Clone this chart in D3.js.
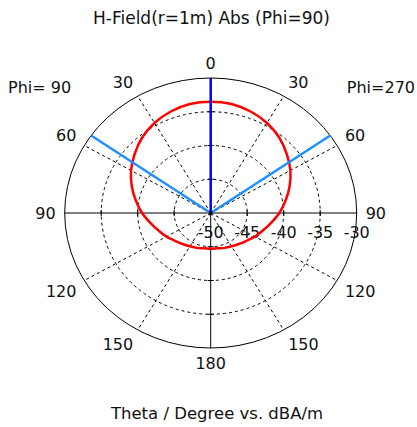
<!DOCTYPE html>
<html>
<head>
<meta charset="utf-8">
<script src="https://cdn.jsdelivr.net/npm/d3@7"></script>
<style>
  body { margin: 0; background: #fff; }
  svg text { font-family: "DejaVu Sans", Verdana, sans-serif; fill: #111; }
</style>
</head>
<body>
<svg id="chart" width="417" height="427"></svg>
<script>
// theta (deg) vs. H-field abs (dBA/m), same on both half planes (Phi=90 left, Phi=270 right)
const thetaDeg = [0, 10, 20, 30, 40, 50, 60, 70, 80, 90, 100, 110, 120, 130, 140, 150, 160, 170, 180];
const hField = [-33.5, -33.6, -34.0, -34.6, -35.4, -36.4, -37.4, -38.5, -39.6, -40.6, -41.6, -42.4, -43.0, -43.6, -44.0, -44.3, -44.5, -44.7, -44.7];
const ringLevels = [-50, -45, -40, -35, -30];
const spokeAngles = [0, 30, 60, 90, 120, 150, 180, 210, 240, 270, 300, 330];
const angleLabels = [0, 30, 60, 90, 120, 150, 180];
const mainBeam = 0;       // dark blue marker
const beamEdges = [55];   // light blue markers, both sides

const cx = 210.7, cy = 213;
const rx = 146, ry = 135;

const svg = d3.select('#chart');

// radial scales (ellipse, so one per direction)
const rScaleX = d3.scaleLinear().domain([-50, -30]).range([0, rx]);
const rScaleY = d3.scaleLinear().domain([-50, -30]).range([0, ry]);
const rad = d => d * Math.PI / 180;
// theta measured from top; side = +1 right (Phi=270), -1 left (Phi=90)
const px = (v, a, side = 1) => cx + side * rScaleX(v) * Math.sin(rad(a));
const py = (v, a) => cy - rScaleY(v) * Math.cos(rad(a));

const grid = svg.append('g');

// dashed rings
grid.selectAll('ellipse.ring')
  .data(ringLevels.slice(1, -1))
  .enter().append('ellipse')
  .attr('cx', cx).attr('cy', cy)
  .attr('rx', d => rScaleX(d)).attr('ry', d => rScaleY(d))
  .attr('fill', 'none').attr('stroke', '#000')
  .attr('stroke-width', 1).attr('stroke-dasharray', '3,3');

// dashed spokes
grid.selectAll('line.spoke')
  .data(spokeAngles.filter(a => a % 90 !== 0))
  .enter().append('line')
  .attr('x1', cx).attr('y1', cy)
  .attr('x2', a => px(-30, a)).attr('y2', a => py(-30, a))
  .attr('stroke', '#000').attr('stroke-width', 1).attr('stroke-dasharray', '3,3');

// outer ring
grid.append('ellipse')
  .attr('cx', cx).attr('cy', cy).attr('rx', rx).attr('ry', ry)
  .attr('fill', 'none').attr('stroke', '#000').attr('stroke-width', 1);

// solid axes
grid.append('line')
  .attr('x1', px(-30, 270)).attr('y1', cy).attr('x2', px(-30, 90)).attr('y2', cy)
  .attr('stroke', '#000');
grid.append('line')
  .attr('x1', cx).attr('y1', py(-30, 0)).attr('x2', cx).attr('y2', py(-30, 180))
  .attr('stroke', '#000');

// tick marks on the axes
ringLevels.slice(1, -1).forEach(v => {
  [90, 270].forEach(a => {
    grid.append('line')
      .attr('x1', px(v, a)).attr('x2', px(v, a))
      .attr('y1', cy - 3).attr('y2', cy + 3).attr('stroke', '#000');
  });
  [0, 180].forEach(a => {
    grid.append('line')
      .attr('y1', py(v, a)).attr('y2', py(v, a))
      .attr('x1', cx - 3).attr('x2', cx + 3).attr('stroke', '#000');
  });
});

// ring labels along the right horizontal axis
svg.selectAll('text.ring')
  .data(ringLevels)
  .enter().append('text')
  .attr('x', d => px(d, 90))
  .attr('y', cy + 25)
  .attr('text-anchor', 'middle')
  .style('font-size', '16px')
  .text(d => d);

// angle labels on both sides, text box pushed just outside a label ellipse
const labelRx = 155, labelRy = 143.5, halfH = 6.5;
angleLabels.forEach(a => {
  const sides = (a === 0 || a === 180) ? [1] : [-1, 1];
  sides.forEach(s => {
    const t = svg.append('text')
      .attr('text-anchor', 'middle')
      .attr('dy', '0.36em')
      .style('font-size', '16px')
      .text(a);
    const w = t.node().getComputedTextLength();
    const sn = Math.sin(rad(a)), cs = Math.cos(rad(a));
    const ox = Math.abs(sn) > 1e-6 ? w / 2 : 0;
    const oy = Math.abs(cs) > 1e-6 ? halfH * Math.sign(cs) : 0;
    t.attr('x', cx + s * (labelRx * sn + ox))
      .attr('y', cy - (labelRy * cs + oy));
  });
});

// pattern curve: right half going down, left half coming back up
const pts = thetaDeg.map((a, i) => [px(hField[i], a, 1), py(hField[i], a)])
  .concat(thetaDeg.slice(1, -1).reverse().map(a => {
    const i = thetaDeg.indexOf(a);
    return [px(hField[i], a, -1), py(hField[i], a)];
  }));
svg.append('path')
  .datum(pts)
  .attr('d', d3.line().curve(d3.curveCatmullRomClosed))
  .attr('fill', 'none').attr('stroke', '#ff0000').attr('stroke-width', 2.5);

// beam markers
beamEdges.forEach(a => {
  [-1, 1].forEach(s => {
    svg.append('line')
      .attr('x1', cx).attr('y1', cy)
      .attr('x2', px(-30, a, s)).attr('y2', py(-30, a))
      .attr('stroke', '#1e90ff').attr('stroke-width', 2.5);
  });
});
svg.append('line')
  .attr('x1', cx).attr('y1', cy)
  .attr('x2', px(-30, mainBeam)).attr('y2', py(-30, mainBeam))
  .attr('stroke', '#0000ff').attr('stroke-width', 2.5);

svg.append('circle').attr('cx', cx).attr('cy', cy).attr('r', 2).attr('fill', '#000');

// titles
svg.append('text').attr('x', 211.5).attr('y', 24).attr('text-anchor', 'middle')
  .style('font-size', '17px').text('H-Field(r=1m) Abs (Phi=90)');
svg.append('text').attr('x', 217).attr('y', 419).attr('text-anchor', 'middle')
  .style('font-size', '16.5px').text('Theta / Degree vs. dBA/m');
svg.append('text').attr('x', 8).attr('y', 93).attr('text-anchor', 'start')
  .style('font-size', '16px').text('Phi= 90');
svg.append('text').attr('x', 415).attr('y', 93).attr('text-anchor', 'end')
  .style('font-size', '16px').text('Phi=270');
</script>
</body>
</html>
